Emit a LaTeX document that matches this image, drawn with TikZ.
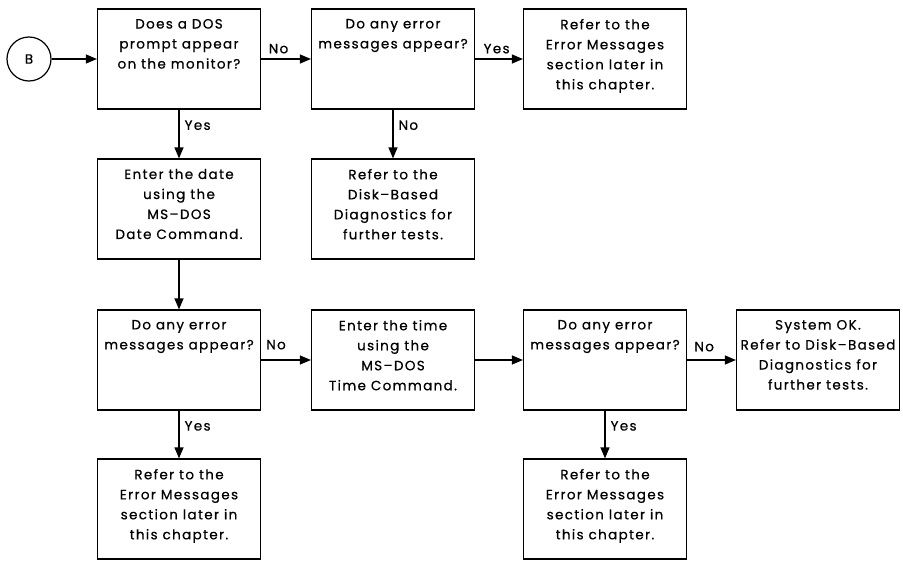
\documentclass[tikz,border=0pt]{standalone}
\usepackage{fontspec}
\setmainfont[LetterSpace=10,FakeBold=0.6]{Poppins}
\usetikzlibrary{arrows.meta}
\tikzset{
  box/.style={draw, line width=1.2pt, rectangle, inner sep=0pt, minimum width=163pt, minimum height=100pt, font=\fontsize{13.5pt}{20pt}\selectfont},
  arr/.style={line width=1.2pt, -{Triangle[length=11pt,width=9pt]}},
  lbl/.style={font=\fontsize{13.5pt}{15pt}\selectfont, inner sep=5pt},
  start/.style={draw, circle, line width=1.2pt, minimum size=44pt, inner sep=0pt, font=\fontsize{13.5pt}{15pt}\selectfont}
}
\newcommand{\bt}[1]{\parbox[c][80pt][t]{162pt}{\centering #1\par}}
\begin{document}
\begin{tikzpicture}[x=1pt,y=-1pt]
\useasboundingbox (0,0) rectangle (903,562);
\node[start] (B) at (29,59) {B};
\node[box] (b1) at (179,59) {\bt{Does a DOS\\prompt appear\\on the monitor?}};
\node[box] (b2) at (393,59) {\bt{Do any error\\messages appear?}};
\node[box] (b3) at (605,59) {\bt{Refer to the\\Error Messages\\section later in\\this chapter.}};
\node[box] (b4) at (179,209) {\bt{Enter the date\\using the\\MS--DOS\\Date Command.}};
\node[box] (b5) at (393,209) {\bt{Refer to the\\Disk--Based\\Diagnostics for\\further tests.}};
\node[box] (b6) at (179,360) {\bt{Do any error\\messages appear?}};
\node[box] (b7) at (393,360) {\bt{Enter the time\\using the\\MS--DOS\\Time Command.}};
\node[box] (b8) at (605,360) {\bt{Do any error\\messages appear?}};
\node[box] (b9) at (818,360) {\bt{System OK.\\Refer to Disk--Based\\Diagnostics for\\further tests.}};
\node[box] (b10) at (605,509) {\bt{Refer to the\\Error Messages\\section later in\\this chapter.}};
\node[box] (b11) at (179,509) {\bt{Refer to the\\Error Messages\\section later in\\this chapter.}};
\draw[arr] (B) -- (b1);
\draw[arr] (b1) -- node[lbl, above, pos=0.35] {No} (b2);
\draw[arr] (b2) -- node[lbl, above, pos=0.45] {Yes} (b3);
\draw[arr] (b1) -- node[lbl, right, pos=0.32] {Yes} (b4);
\draw[arr] (b2) -- node[lbl, right, pos=0.32] {No} (b5);
\draw[arr] (b4) -- (b6);
\draw[arr] (b6) -- node[lbl, above, pos=0.3, yshift=5pt] {No} (b7);
\draw[arr] (b7) -- (b8);
\draw[arr] (b8) -- node[lbl, above, pos=0.35, yshift=3pt] {No} (b9);
\draw[arr] (b6) -- node[lbl, right, pos=0.32] {Yes} (b11);
\draw[arr] (b8) -- node[lbl, right, pos=0.32] {Yes} (b10);
\end{tikzpicture}
\end{document}
